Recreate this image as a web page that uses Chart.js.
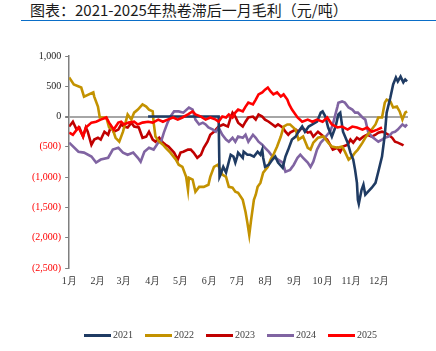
<!DOCTYPE html>
<html>
<head>
<meta charset="utf-8">
<script src="https://cdn.jsdelivr.net/npm/chart.js@4"></script>
<style>
  html, body { margin: 0; padding: 0; background: #fff; }
  #wrap { position: relative; width: 436px; height: 351px; overflow: hidden; }
  #title { position: absolute; left: 30px; top: 0; font: 15px "Noto Sans CJK SC", sans-serif; color: #1a1a1a; line-height: 20px; white-space: nowrap; }
  #rule { position: absolute; left: 21px; right: 0; top: 20px; border-top: 1.5px solid #0a6ec8; }
  canvas { position: absolute; left: 0; top: 0; }
  #legend { position: absolute; left: 84px; top: 328px; display: flex; font: 10px 'Liberation Serif', 'Times New Roman', serif; color: #404040; line-height: 14px; }
  #legend .item { display: flex; align-items: center; margin-right: 12px; }
  #legend .sw { width: 27px; height: 3px; margin-right: 2px; }
</style>
</head>
<body>
<div id="wrap">
  <div id="title">图表：2021-2025年热卷滞后一月毛利（元/吨）</div>
  <div id="rule"></div>
  <canvas id="c" width="436" height="351"></canvas>
  <div id="legend"></div>
</div>
<script>
"use strict";

// x = day of year, y = 元/吨
const MONTHS = ["1月", "2月", "3月", "4月", "5月", "6月", "7月", "8月", "9月", "10月", "11月", "12月"];
const MONTH_START = [0, 31, 59, 90, 120, 151, 181, 212, 243, 273, 304, 334];
const YEARS = ["2021", "2022", "2023", "2024", "2025"];

const S2021 = [[85,0],[161,0],[162,-995],[163,-960],[166,-830],[169,-925],[172,-745],[174,-630],[177,-660],[179,-760],[181,-660],[182,-595],[187,-680],[188,-580],[192,-630],[195,-630],[199,-660],[203,-580],[206,-630],[208,-545],[209,-680],[211,-830],[215,-795],[219,-710],[222,-660],[225,-760],[230,-845],[233,-660],[236,-545],[240,-380],[244,-330],[247,-250],[251,-165],[254,-250],[258,-165],[262,-130],[267,-85],[271,65],[273,85],[276,0],[279,-180],[283,-330],[287,-165],[290,35],[292,65],[295,-250],[300,-430],[303,-595],[306,-710],[308,-880],[310,-1095],[311,-1375],[312,-1440],[315,-1210],[317,-1125],[319,-1290],[322,-1240],[326,-1175],[330,-1095],[333,-910],[337,-660],[340,-300],[342,65],[346,315],[349,530],[352,645],[354,580],[357,660],[360,565],[362,610],[364,580]];

const S2022 = [[0,645],[5,530],[13,480],[16,330],[26,400],[27,330],[31,165],[33,-15],[40,-15],[43,-180],[47,-215],[50,-350],[54,-415],[58,-250],[61,-85],[63,35],[67,-50],[70,65],[74,115],[79,200],[83,165],[86,115],[90,85],[91,-100],[93,-330],[97,-415],[101,-465],[104,-515],[109,-595],[115,-710],[118,-795],[122,-830],[126,-995],[128,-1210],[129,-1010],[133,-1040],[136,-1240],[140,-1160],[145,-1160],[150,-1125],[152,-995],[156,-830],[160,-795],[163,-880],[165,-960],[169,-995],[172,-1160],[176,-1175],[179,-1240],[182,-1260],[187,-1375],[190,-1575],[192,-1755],[194,-1955],[196,-1705],[199,-1375],[201,-1290],[203,-1160],[206,-1095],[209,-925],[214,-830],[217,-710],[220,-630],[224,-495],[228,-330],[231,-165],[235,-130],[238,-130],[244,-215],[247,-380],[252,-330],[257,-515],[260,-545],[263,-430],[268,-350],[274,-330],[279,-430],[283,-495],[289,-515],[294,-495],[297,-580],[301,-710],[305,-660],[308,-595],[311,-545],[316,-430],[319,-350],[324,-250],[330,-130],[333,-15],[337,-15],[340,230],[342,280],[346,250],[349,150],[353,165],[356,85],[359,-50],[362,65],[364,85]];

const S2023 = [[0,-165],[4,-85],[8,-215],[11,-180],[15,-330],[18,-180],[20,-250],[24,-465],[27,-380],[31,-350],[34,-380],[38,-250],[42,-300],[45,-165],[48,-250],[53,-215],[56,-130],[59,-165],[63,-180],[67,-100],[70,-165],[75,-180],[79,-350],[83,-330],[86,-250],[90,-380],[93,-415],[97,-350],[101,-430],[104,-465],[107,-495],[113,-595],[117,-710],[120,-595],[123,-580],[128,-545],[131,-545],[134,-595],[138,-680],[142,-630],[145,-515],[149,-415],[152,-300],[156,-250],[161,-165],[166,-130],[171,-165],[174,-15],[176,65],[179,0],[182,-100],[187,-165],[190,-85],[193,-15],[198,0],[201,-50],[204,35],[208,0],[211,-50],[215,-85],[219,-130],[222,-165],[225,-130],[230,-180],[233,-250],[236,-300],[238,-265],[244,-215],[247,-250],[251,-180],[257,-265],[260,-250],[263,-330],[268,-250],[274,-330],[278,-380],[281,-465],[284,-545],[289,-515],[292,-580],[295,-495],[300,-465],[303,-380],[306,-430],[310,-350],[313,-380],[317,-330],[321,-300],[326,-330],[330,-300],[333,-265],[337,-250],[340,-265],[344,-300],[348,-350],[351,-415],[354,-430],[359,-465],[360,-480]];

const S2024 = [[0,-430],[10,-580],[16,-595],[24,-660],[29,-760],[34,-710],[42,-680],[47,-545],[53,-515],[58,-595],[63,-630],[69,-595],[74,-680],[77,-745],[81,-580],[86,-515],[91,-545],[96,-430],[99,-415],[102,-265],[106,-100],[109,0],[113,85],[118,85],[123,65],[129,150],[133,115],[136,-50],[140,-130],[144,-100],[147,-130],[150,-180],[155,-215],[158,-250],[161,-180],[165,-300],[169,-380],[172,-415],[176,-350],[179,-415],[182,-330],[187,-350],[190,-300],[193,-415],[198,-300],[201,-350],[204,-415],[208,-465],[211,-515],[215,-580],[219,-660],[222,-680],[225,-710],[230,-760],[233,-910],[238,-880],[242,-795],[246,-680],[249,-630],[252,-680],[257,-760],[260,-830],[263,-745],[267,-545],[271,-430],[274,-380],[278,-300],[281,-250],[284,-130],[289,165],[290,230],[294,250],[297,230],[301,150],[305,115],[308,65],[311,65],[316,-15],[319,-50],[322,-250],[326,-330],[330,-380],[333,-415],[337,-380],[340,-350],[344,-330],[348,-265],[351,-250],[354,-215],[359,-130],[362,-165],[364,-130]];

const S2025 = [[0,-265],[4,-300],[10,-180],[15,-330],[18,-180],[24,-100],[29,-85],[34,-50],[40,-15],[43,-100],[48,-215],[53,-100],[56,-85],[59,-130],[64,-100],[70,-85],[74,-130],[79,-100],[85,-85],[90,-100],[96,-50],[101,-85],[106,-50],[112,-15],[117,-50],[122,-15],[128,35],[133,85],[136,35],[142,0],[147,-50],[152,-15],[158,-50],[161,-85],[165,0],[169,-15],[172,35],[176,-15],[179,65],[182,115],[187,85],[190,165],[193,230],[198,200],[201,280],[204,365],[208,400],[211,445],[214,480],[217,415],[220,365],[224,400],[228,330],[231,365],[235,280],[237,200],[240,115],[246,-15],[251,-85],[257,-50],[262,-85],[267,-50],[273,-85],[278,-15],[283,-130],[289,-180],[294,-165],[300,-215],[305,-165],[310,-180],[316,-215],[321,-180],[326,-250],[332,-215],[337,-180]];

const SERIES = [S2021, S2022, S2023, S2024, S2025];
const COLORS = ["#1f3b63", "#c39200", "#c00000", "#8064a2", "#ff0000"];
const DRAW_ORDER = [1, 2, 4, 3, 0];   // lower = on top

const SERIF = "'Liberation Serif', 'Times New Roman', serif";

function fmtNum(v) {
  const s = Math.abs(v).toLocaleString("en-US");
  return v < 0 ? "(" + s + ")" : s;
}

const datasets = YEARS.map((y, i) => ({
  label: y,
  data: SERIES[i].map(([d, v]) => ({ x: d, y: v })),
  borderColor: COLORS[i],
  backgroundColor: COLORS[i],
  borderWidth: 2.6,
  pointRadius: 0,
  tension: 0,
  order: DRAW_ORDER[i],
}));

const chart = new Chart(document.getElementById("c"), {
  type: "line",
  data: { datasets },
  options: {
    responsive: false, animation: false,
    layout: { padding: { top: 56, left: 28, right: 28, bottom: 57 } },
    scales: {
      x: {
        type: "linear", min: 0, max: 365,
        afterBuildTicks: (s) => { s.ticks = MONTH_START.map((v) => ({ value: v })); },
        ticks: {
          callback: (v, i) => MONTHS[i], autoSkip: false, maxRotation: 0, padding: 7,
          color: "#333", font: { family: SERIF, size: 10 },
        },
        grid: { display: false, drawTicks: false }, border: { display: false },
      },
      y: {
        min: -2500, max: 1000,
        ticks: {
          stepSize: 500, callback: fmtNum, padding: 4,
          color: (c) => (c.tick.value < 0 ? "#ff0000" : "#1a1a1a"),
          font: { family: SERIF, size: 10 },
        },
        grid: {
          color: (c) => (c.tick.value === 0 ? "#a6a6a6" : "rgba(0,0,0,0)"),
          lineWidth: (c) => (c.tick.value === 0 ? 2 : 1),
          tickColor: "#7f7f7f", tickLength: 4,
        },
        border: { color: "#7f7f7f", width: 1.5 },
      },
    },
    plugins: { legend: { display: false }, tooltip: { enabled: false } },
  },
});

// html legend, built from the chart's own datasets
const lg = document.getElementById("legend");
chart.data.datasets.forEach((ds) => {
  const it = document.createElement("div");
  it.className = "item";
  const sw = document.createElement("span");
  sw.className = "sw";
  sw.style.background = ds.borderColor;
  it.appendChild(sw);
  it.appendChild(document.createTextNode(ds.label));
  lg.appendChild(it);
});
</script>
</body>
</html>
